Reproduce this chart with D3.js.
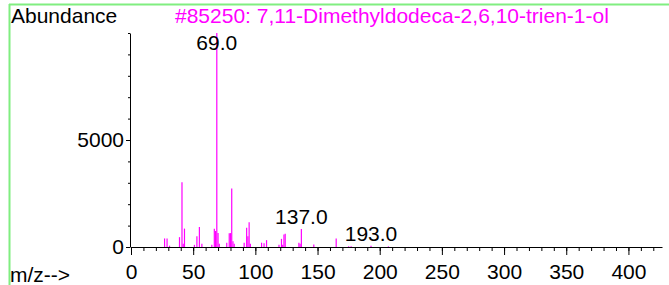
<!DOCTYPE html>
<html>
<head>
<meta charset="utf-8">
<script src="https://cdn.jsdelivr.net/npm/d3@7"></script>
<style>
    body { margin: 0; background: #fff; }
    svg { display: block; font-family: Arial, 'Liberation Sans', sans-serif; }
    .axis path, .axis line { stroke: #000; }
    .axis text { font-size: 21px; fill: #000; font-family: Arial, 'Liberation Sans', sans-serif; }
</style>
</head>
<body>
<div id="chart"></div>
<script>
var title = '#85250: 7,11-Dimethyldodeca-2,6,10-trien-1-ol';

// m/z and abundance
var mz = [27, 29, 31, 39, 41, 42, 43, 51, 53, 55, 57, 65, 67, 68, 69, 70, 71,
    77, 79, 80, 81, 82, 83, 91, 93, 94, 95, 96, 105, 107, 109, 119, 121, 122,
    123, 124, 135, 136, 137, 147, 165, 175, 177, 193, 207];
var abundance = [400, 400, 60, 460, 3030, 150, 860, 100, 500, 940, 150, 100, 850, 750, 9999, 650, 150,
    200, 640, 650, 2730, 270, 150, 200, 900, 500, 1160, 150, 200, 180, 320, 100, 380, 100,
    580, 620, 200, 150, 840, 120, 400, 30, 40, 60, 30];

var labelMz = [69, 137, 193];
var labelText = ['69.0', '137.0', '193.0'];

var xMajorTicks = [0, 50, 100, 150, 200, 250, 300, 350, 400];
var yMajorTicks = [0, 5000];

var width = 669, height = 285;
var fontSize = 21;
var magenta = '#ff00ff';
var green = '#80ee80';

var svg = d3.select('#chart')
    .append('svg')
    .attr('width', width)
    .attr('height', height);

// frame lines top and left
svg.append('line')
    .attr('x1', 9).attr('x2', width)
    .attr('y1', 4.5).attr('y2', 4.5)
    .attr('stroke', green).attr('stroke-width', 2);
svg.append('line')
    .attr('x1', 9.5).attr('x2', 9.5)
    .attr('y1', 4).attr('y2', height)
    .attr('stroke', green).attr('stroke-width', 2);

var x = d3.scaleLinear()
    .domain([0, 427])
    .range([131, 662]);

var y = d3.scaleLinear()
    .domain([0, 10000])
    .range([247, 33]);

// x axis: minor ticks every 10, labelled every 50
svg.append('g')
    .attr('class', 'axis')
    .attr('transform', 'translate(0,247)')
    .call(d3.axisBottom(x)
        .tickValues(d3.range(0, 427, 10))
        .tickSize(4)
        .tickSizeOuter(0)
        .tickFormat(''));

svg.append('g')
    .attr('class', 'axis')
    .attr('transform', 'translate(0,247)')
    .call(d3.axisBottom(x)
        .tickValues(xMajorTicks)
        .tickSize(8)
        .tickSizeOuter(0)
        .tickPadding(9)
        .tickFormat(d3.format('d')))
    .call(function(g) { g.select('.domain').remove(); });

// y axis
svg.append('g')
    .attr('class', 'axis')
    .attr('transform', 'translate(130,0)')
    .call(d3.axisLeft(y)
        .tickValues(d3.range(0, 10001, 1000))
        .tickSize(2)
        .tickSizeOuter(0)
        .tickFormat(''));

svg.append('g')
    .attr('class', 'axis')
    .attr('transform', 'translate(130,0)')
    .call(d3.axisLeft(y)
        .tickValues(yMajorTicks)
        .tickSize(4)
        .tickPadding(2)
        .tickFormat(d3.format('d')))
    .call(function(g) { g.select('.domain').remove(); });

// peaks
var peaks = mz.map(function(m, i) { return { mz: m, ab: abundance[i] }; });

svg.append('g')
    .selectAll('line')
    .data(peaks)
    .enter()
    .append('line')
    .attr('x1', function(d) { return x(d.mz); })
    .attr('x2', function(d) { return x(d.mz); })
    .attr('y1', y(0))
    .attr('y2', function(d) { return y(d.ab); })
    .attr('stroke', magenta)
    .attr('stroke-width', 1.2);

// peak labels
svg.append('g')
    .selectAll('text')
    .data(labelMz)
    .enter()
    .append('text')
    .attr('x', function(d) { return x(d); })
    .attr('y', function(d) {
        var top = y(abundance[mz.indexOf(d)]);
        return Math.max(top - 5, 50);
    })
    .attr('text-anchor', 'middle')
    .attr('font-size', fontSize)
    .attr('fill', '#000')
    .text(function(d, i) { return labelText[i]; });

svg.append('text')
    .attr('x', 11)
    .attr('y', 23)
    .attr('font-size', fontSize)
    .attr('fill', '#000')
    .text('Abundance');

svg.append('text')
    .attr('x', 175)
    .attr('y', 23)
    .attr('font-size', fontSize)
    .attr('fill', magenta)
    .text(title);

svg.append('text')
    .attr('x', 10)
    .attr('y', 282)
    .attr('font-size', fontSize)
    .attr('fill', '#000')
    .text('m/z-->');
</script>
</body>
</html>
